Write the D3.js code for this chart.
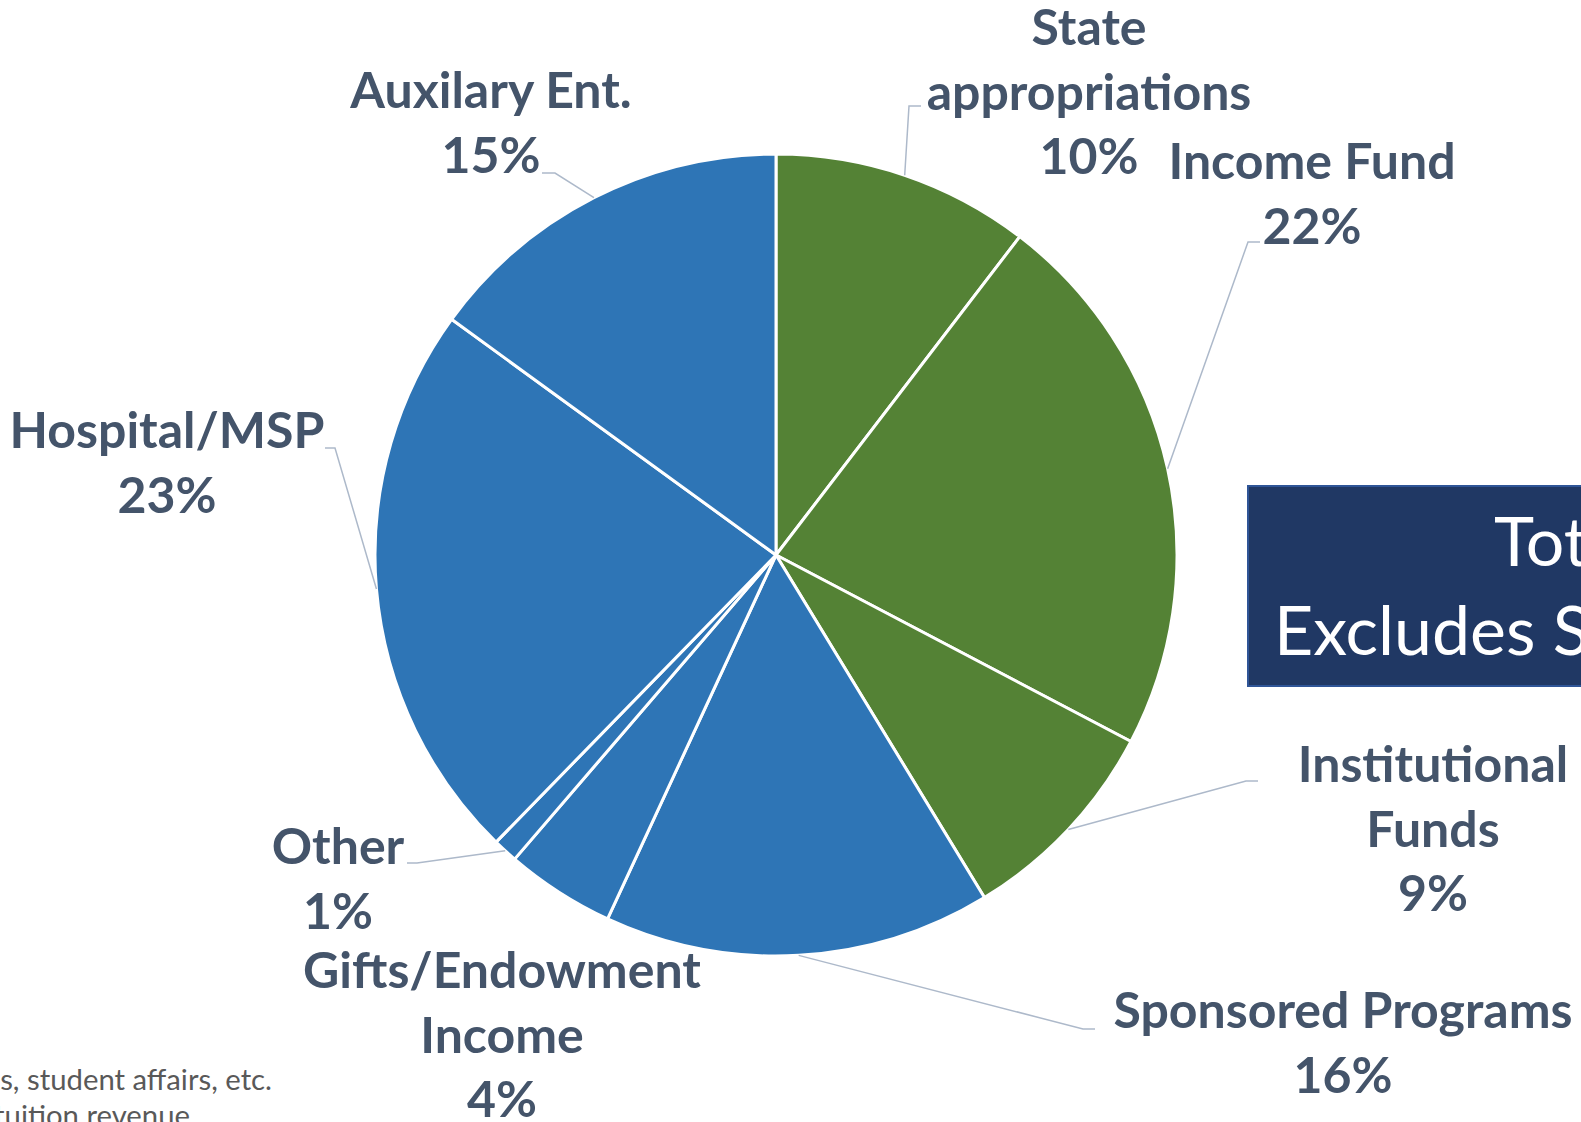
<!DOCTYPE html>
<html>
<head>
<meta charset="utf-8">
<script src="https://d3js.org/d3.v7.min.js"></script>
<style>
  body { margin: 0; background: #fff; overflow: hidden; }
  svg { display: block; }
</style>
</head>
<body>
<svg></svg>
<script>
// revenue sources, clockwise from 12 o'clock
const categories = ["State appropriations", "Income Fund", "Institutional Funds", "Sponsored Programs",
                    "Gifts/Endowment Income", "Other", "Hospital/MSP", "Auxilary Ent."];
const shares = [10.4, 22.3, 8.6, 15.6, 4.4, 1.0, 22.7, 15.0];
const pctLabels = ["10%", "22%", "9%", "16%", "4%", "1%", "23%", "15%"];
const fundGroup = ["state", "state", "state", "other", "other", "other", "other", "other"];
const labelLines = [["State", "appropriations"], ["Income Fund"], ["Institutional", "Funds"], ["Sponsored Programs"],
                    ["Gifts/Endowment", "Income"], ["Other"], ["Hospital/MSP"], ["Auxilary Ent."]];
const boxLines = ["Total", "Excludes S"];
const footLines = ["s, student affairs, etc.", "tuition revenue"];

// label layout (text centre, first baseline, leader elbow, leader end)
const labelPos = [
  {x: 1089, y: 45,   elbow: [909, 106],  end: [921, 106]},
  {x: 1312, y: 179,  elbow: [1248, 242], end: [1260, 242]},
  {x: 1433, y: 782,  elbow: [1246, 781], end: [1258, 781]},
  {x: 1343, y: 1028, elbow: [1083, 1029], end: [1095, 1029]},
  {x: 502,  y: 988,  elbow: null, end: null},
  {x: 338,  y: 864,  elbow: [417, 863],  end: [407, 863]},
  {x: 167,  y: 448,  elbow: [335, 448],  end: [325, 448]},
  {x: 491,  y: 108,  elbow: [555, 173],  end: [542, 173]}
];

const width = 1581, height = 1122;
const cx = 776, cy = 555, R = 401;
const lineH = 64.5;

const svg = d3.select("svg").attr("width", width).attr("height", height);

const color = d3.scaleOrdinal().domain(["state", "other"]).range(["#548235", "#2E75B6"]);

const pie = d3.pie().sort(null).value(d => d);
const arcs = pie(shares);
const arc = d3.arc().innerRadius(0).outerRadius(R);

const g = svg.append("g").attr("transform", "translate(" + cx + "," + cy + ")");
g.selectAll("path.slice")
  .data(arcs)
  .enter().append("path")
  .attr("class", "slice")
  .attr("d", arc)
  .attr("fill", (d, i) => color(fundGroup[i]))
  .attr("stroke", "#fff")
  .attr("stroke-width", 3)
  .attr("stroke-linejoin", "round");

// leader lines
arcs.forEach(function(d, i) {
  const p = labelPos[i];
  if (!p.elbow) return;
  const a = (d.startAngle + d.endAngle) / 2;
  const start = [cx + R * Math.sin(a), cy - R * Math.cos(a)];
  svg.append("path")
    .attr("d", d3.line()([start, p.elbow, p.end]))
    .attr("fill", "none")
    .attr("stroke", "#ADB9CA")
    .attr("stroke-width", 1.5);
});

// data labels
arcs.forEach(function(d, i) {
  const p = labelPos[i];
  const lines = labelLines[i].concat([pctLabels[i]]);
  const t = svg.append("text")
    .attr("text-anchor", "middle")
    .style("font-family", "Lato, 'Open Sans', sans-serif")
    .style("font-weight", "bold")
    .style("font-size", "50px")
    .attr("fill", "#44546A");
  lines.forEach(function(s, k) {
    t.append("tspan").attr("x", p.x).attr("y", p.y + k * lineH).text(s);
  });
});

// title box on the right
svg.append("rect")
  .attr("x", 1248).attr("y", 486)
  .attr("width", 400).attr("height", 200)
  .attr("fill", "#203864")
  .attr("stroke", "#2F5597")
  .attr("stroke-width", 2);
svg.append("text")
  .attr("x", 1494).attr("y", 566)
  .style("font-family", "Lato, 'Open Sans', sans-serif")
  .style("font-size", "68px")
  .attr("fill", "#fff")
  .text(boxLines[0]);
svg.append("text")
  .attr("x", 1274).attr("y", 655)
  .style("font-family", "Lato, 'Open Sans', sans-serif")
  .style("font-size", "68px")
  .attr("fill", "#fff")
  .text(boxLines[1]);

// footnote, cut off at the left
svg.append("text")
  .attr("x", 272).attr("y", 1090)
  .attr("text-anchor", "end")
  .style("font-family", "Lato, 'Open Sans', sans-serif")
  .style("font-size", "29.3px")
  .attr("fill", "#595959")
  .text(footLines[0]);
svg.append("text")
  .attr("x", 190).attr("y", 1126)
  .attr("text-anchor", "end")
  .style("font-family", "Lato, 'Open Sans', sans-serif")
  .style("font-size", "29.3px")
  .attr("fill", "#595959")
  .text(footLines[1]);
</script>
</body>
</html>
